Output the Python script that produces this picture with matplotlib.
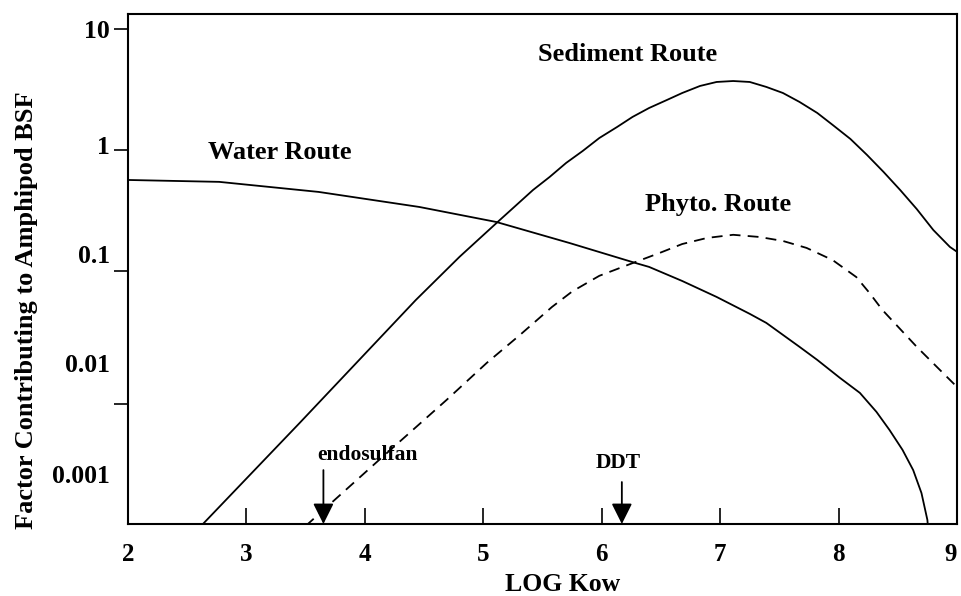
import numpy as np
import matplotlib.pyplot as plt
from matplotlib.ticker import FixedLocator, FixedFormatter, NullFormatter

plt.rcParams['font.family'] = ['Liberation Serif', 'DejaVu Serif']
plt.rcParams['font.weight'] = 'bold'

# values (log Kow, factor)
water_x = [2.00, 2.77, 3.61, 4.46, 5.11, 5.73, 6.29, 6.40, 6.68, 6.97, 7.25, 7.39,
           7.67, 7.82, 8.01, 8.18, 8.32, 8.43, 8.54, 8.63, 8.70, 8.75, 8.77]
water_y = [0.565, 0.545, 0.450, 0.338, 0.254, 0.170, 0.116, 0.108, 0.0826, 0.061,
           0.0442, 0.0372, 0.0236, 0.0184, 0.0131, 0.00982, 0.00684, 0.00485,
           0.00332, 0.00226, 0.00146, 0.000875, 0.0005]

sed_x = [2.60, 3.45, 4.43, 4.80, 5.14, 5.28, 5.42, 5.56, 5.70, 5.84, 5.98, 6.13,
         6.26, 6.40, 6.55, 6.68, 6.83, 6.97, 7.11, 7.25, 7.39, 7.53, 7.67, 7.82,
         7.95, 8.10, 8.24, 8.38, 8.52, 8.66, 8.80, 8.94, 9.00]
sed_y = [0.00075, 0.00555, 0.0575, 0.131, 0.264, 0.351, 0.467, 0.598, 0.782, 0.982,
         1.256, 1.549, 1.875, 2.223, 2.588, 2.958, 3.381, 3.648, 3.715, 3.648,
         3.319, 2.958, 2.495, 2.023, 1.611, 1.233, 0.910, 0.658, 0.467, 0.325,
         0.218, 0.158, 0.144]

phyto_x = [3.50, 4.12, 4.69, 5.03, 5.31, 5.58, 5.75, 5.98, 6.26, 6.49, 6.68, 6.89,
           7.11, 7.33, 7.53, 7.73, 7.95, 8.15, 8.26, 8.37, 8.66, 8.83, 9.00]
phyto_y = [0.00078, 0.00274, 0.00859, 0.0174, 0.0296, 0.0504, 0.0676, 0.0912, 0.116,
           0.141, 0.167, 0.1875, 0.199, 0.191, 0.177, 0.155, 0.123, 0.089, 0.066,
           0.0476, 0.0236, 0.0161, 0.011]

chem_names = ['endosulfan', 'DDT']
chem_kow = [3.65, 6.17]

x_ticks = [2, 3, 4, 5, 6, 7, 8, 9]
y_labels = ['10', '1', '0.1', '0.01', '0.001']

ymin, ymax = 0.00081, 13.3

fig = plt.figure(figsize=(9.61, 5.96), dpi=100)
ax = fig.add_axes([128 / 961, 72 / 596, 829 / 961, 510 / 596])

ax.plot(water_x, water_y, color='black', lw=1.3)
ax.plot(sed_x, sed_y, color='black', lw=1.3)
ax.plot(phyto_x, phyto_y, color='black', lw=1.3, dashes=(6, 4))

ax.set_yscale('log')
ax.set_xlim(2, 9)
ax.set_ylim(ymin, ymax)

for s in ax.spines.values():
    s.set_linewidth(1.5)

# x ticks point inward
ax.set_xticks(x_ticks)
ax.set_xticklabels([str(t) for t in x_ticks])
ax.tick_params(axis='x', direction='in', length=11.5, width=1.2, pad=14, labelsize=18)
ax.get_xticklabels()[-1].set_horizontalalignment('right')

# y: tick marks where the scan has them, labels where the scan prints them
ax.yaxis.remove_overlapping_locs = False
ax.yaxis.set_major_locator(FixedLocator([10, 1, 0.1, 0.00796]))
ax.yaxis.set_major_formatter(NullFormatter())
ax.yaxis.set_minor_locator(FixedLocator([10, 10 ** 0.041, 10 ** -0.86, 10 ** -1.76, 10 ** -2.68]))
ax.yaxis.set_minor_formatter(FixedFormatter(y_labels))
ax.tick_params(axis='y', which='major', direction='out', length=10, width=1.2)
ax.tick_params(axis='y', which='minor', length=0, pad=13, labelsize=18.5)

fig.text(563 / 961, 1 - 591 / 596, 'LOG Kow', ha='center', va='baseline', fontsize=18.5)
fig.text(27 / 961, 1 - 310 / 596, 'Factor Contributing to Amphipod BSF', rotation=90,
         ha='center', va='center', fontsize=19)

ax.text(3.285, 0.944, 'Water Route', ha='center', va='center', fontsize=19)
ax.text(6.22, 6.21, 'Sediment Route', ha='center', va='center', fontsize=19)
ax.text(6.98, 0.351, 'Phyto. Route', ha='center', va='center', fontsize=19)

label_pos = [(4.02, 0.00301), (6.14, 0.00259)]
arrow_top = [0.00226, 0.0018]
for name, k, (lx, ly), top in zip(chem_names, chem_kow, label_pos, arrow_top):
    ax.text(lx, ly, name, ha='center', va='center', fontsize=15.5)
    ax.annotate('', xy=(k, ymin), xytext=(k, top),
                arrowprops=dict(arrowstyle='-|>,head_length=0.9,head_width=0.45',
                                mutation_scale=14, color='black', lw=1.3,
                                shrinkA=0, shrinkB=0))

fig.savefig('out.png', dpi=100)
